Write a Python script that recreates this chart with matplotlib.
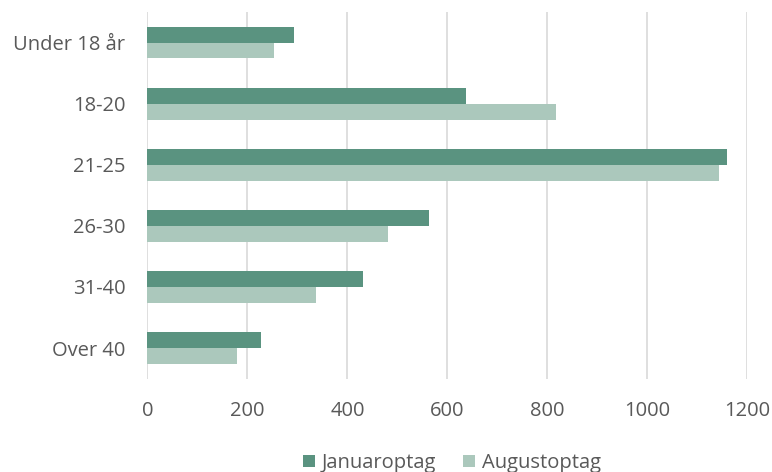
import matplotlib
matplotlib.use("Agg")
import matplotlib.pyplot as plt
import numpy as np

categories = ['Under 18 år', '18-20', '21-25', '26-30', '31-40', 'Over 40']
januar = [294, 638, 1159, 563, 432, 228]
august = [254, 817, 1143, 481, 337, 180]

dark = '#5a9380'
light = '#abc8bc'
txt = '#595959'

plt.rcParams['font.family'] = ['Open Sans', 'DejaVu Sans']

fig = plt.figure(figsize=(7.72, 4.72), dpi=100)
ax = fig.add_axes([0.191, 0.198, 0.777, 0.776])

y = np.arange(len(categories))
h = 0.257
ax.barh(y - h / 2, januar, height=h, color=dark, label='Januaroptag', zorder=2)
ax.barh(y + h / 2, august, height=h, color=light, label='Augustoptag', zorder=2)

ax.set_xlim(0, 1200)
ax.set_ylim(len(categories) - 0.5, -0.5)
ax.set_xticks(range(0, 1201, 200))
ax.set_yticks(y)
ax.set_yticklabels(categories)
ax.grid(axis='x', color='#d9d9d9', linewidth=1.2, zorder=0)
ax.set_axisbelow(True)
for s in ax.spines.values():
    s.set_visible(False)
ax.tick_params(length=0, labelsize=14.5, colors=txt)
ax.tick_params(axis='x', pad=16)
ax.tick_params(axis='y', pad=16)

fig.legend(loc='center', bbox_to_anchor=(0.585, 0.019), ncol=2, frameon=False,
           fontsize=14.5, labelcolor=txt, handlelength=0.6, handleheight=0.6,
           handletextpad=0.33, columnspacing=1.35)

fig.savefig('out.png', dpi=100)
